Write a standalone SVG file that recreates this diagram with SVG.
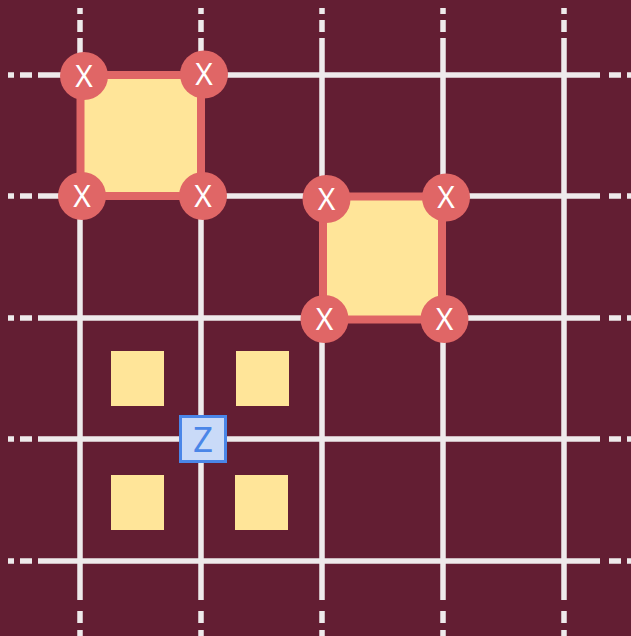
<svg xmlns="http://www.w3.org/2000/svg" width="631" height="636" viewBox="0 0 631 636">
<style>
.g{stroke:#EEEAEB;stroke-width:5.5;fill:none}
.v{stroke-dasharray:6 6 12 6 562 11 12 7 6 100}
.h{stroke-dasharray:6 6 12 6 562 9 12 6 6 100}
.big{fill:#FFE599;stroke:#E06666;stroke-width:8}
.sm{fill:#FFE599}
.c{fill:#E06666}
.x{fill:#FFFFFF;font-family:"Noto Sans","Open Sans",sans-serif;font-size:30px;text-anchor:middle}
.zb{fill:#C9DAF8;stroke:#4A86E8;stroke-width:3}
.z{fill:#4A86E8;font-family:"Noto Sans","Open Sans",sans-serif;font-size:35px;text-anchor:middle}
</style>
<rect width="631" height="636" fill="#631E33"/>
<g id="grid" class="g">
<line class="v" x1="80" y1="8" x2="80" y2="636"/>
<line class="v" x1="201" y1="8" x2="201" y2="636"/>
<line class="v" x1="322" y1="8" x2="322" y2="636"/>
<line class="v" x1="443" y1="8" x2="443" y2="636"/>
<line class="v" x1="564" y1="8" x2="564" y2="636"/>
<line class="h" x1="8" y1="75" x2="631" y2="75"/>
<line class="h" x1="8" y1="196" x2="631" y2="196"/>
<line class="h" x1="8" y1="318" x2="631" y2="318"/>
<line class="h" x1="8" y1="439" x2="631" y2="439"/>
<line class="h" x1="8" y1="561" x2="631" y2="561"/>
</g>
<g id="square1">
<rect class="big" x="80.5" y="75" width="120.5" height="121"/>
</g>
<g id="square2">
<rect class="big" x="323" y="196.5" width="119" height="123"/>
</g>
<g id="x1"><circle class="c" cx="84" cy="76" r="24"/><text class="x" x="84" y="86.5">X</text></g>
<g id="x2"><circle class="c" cx="204" cy="74.5" r="24"/><text class="x" x="204" y="85">X</text></g>
<g id="x3"><circle class="c" cx="82" cy="196" r="24"/><text class="x" x="82" y="206.5">X</text></g>
<g id="x4"><circle class="c" cx="203" cy="196" r="24"/><text class="x" x="203" y="206.5">X</text></g>
<g id="x5"><circle class="c" cx="326.5" cy="199" r="24"/><text class="x" x="326.5" y="209.5">X</text></g>
<g id="x6"><circle class="c" cx="446" cy="197.5" r="24"/><text class="x" x="446" y="208">X</text></g>
<g id="x7"><circle class="c" cx="324.5" cy="319" r="24"/><text class="x" x="324.5" y="329.5">X</text></g>
<g id="x8"><circle class="c" cx="444.5" cy="319" r="24"/><text class="x" x="444.5" y="329.5">X</text></g>
<g id="s1"><rect class="sm" x="111" y="351" width="53" height="55"/></g>
<g id="s2"><rect class="sm" x="236" y="351" width="53" height="55"/></g>
<g id="s3"><rect class="sm" x="111" y="475" width="53" height="55"/></g>
<g id="s4"><rect class="sm" x="235" y="475" width="53" height="55"/></g>
<g id="z"><rect class="zb" x="180.5" y="416.5" width="45" height="45"/><text class="z" x="203" y="451.5">Z</text></g>
</svg>
